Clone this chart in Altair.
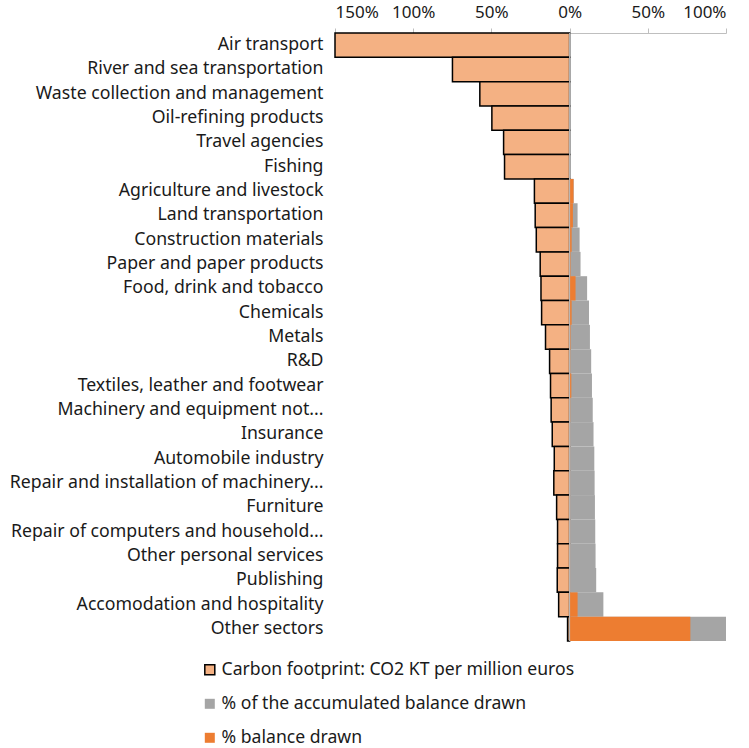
import altair as alt
import pandas as pd

sectors = [
    "Air transport", "River and sea transportation", "Waste collection and management",
    "Oil-refining products", "Travel agencies", "Fishing", "Agriculture and livestock",
    "Land transportation", "Construction materials", "Paper and paper products",
    "Food, drink and tobacco", "Chemicals", "Metals", "R&D",
    "Textiles, leather and footwear", "Machinery and equipment not...", "Insurance",
    "Automobile industry", "Repair and installation of machinery...", "Furniture",
    "Repair of computers and household...", "Other personal services", "Publishing",
    "Accomodation and hospitality", "Other sectors",
]

# Carbon footprint (CO2 KT per million euros), shown to the left of zero
carbon = [150, 74.9, 57.4, 49.7, 42.2, 41.6, 22.5, 22.0, 21.3, 18.8, 18.3, 17.9,
          15.4, 12.8, 12.2, 11.8, 11.1, 9.8, 10.1, 8.3, 7.7, 7.7, 7.9, 7.0, 1.3]
# % of the accumulated balance drawn
accumulated = [0.1, 0.1, 0.1, 0.1, 0.3, 0.3, 2.6, 5.1, 6.4, 7.0, 11.2, 12.4,
               13.0, 13.8, 14.3, 14.8, 15.3, 15.8, 16.0, 16.2, 16.4, 16.6, 17.0, 21.6, 100]
# % balance drawn
balance = [0.05, 0.05, 0.05, 0.05, 0.1, 0.1, 2.5, 2.1, 1.3, 0.6, 3.8, 1.3,
           0.6, 0.4, 1.1, 0.4, 0.3, 0.3, 0.3, 0.3, 0.3, 0.3, 0.3, 5.1, 77.2]

series_names = [
    "Carbon footprint: CO2 KT per million euros",
    "% of the accumulated balance drawn",
    "% balance drawn",
]
series_colors = ["#F4B183", "#A5A5A5", "#ED7D31"]

rows = []
for s, c, a, b in zip(sectors, carbon, accumulated, balance):
    rows.append({"sector": s, "series": series_names[0], "value": -c})
    rows.append({"sector": s, "series": series_names[1], "value": a})
    rows.append({"sector": s, "series": series_names[2], "value": b})
df = pd.DataFrame(rows)

FONT = "Noto Sans"
TEXT = "#1a1a1a"

y_enc = alt.Y(
    "sector:N",
    sort=sectors,
    scale=alt.Scale(paddingInner=0, paddingOuter=0),
    axis=alt.Axis(title=None, ticks=False, domain=False, labelFontSize=17.7,
                  labelPadding=12, labelColor=TEXT, labelLimit=400, labelFont=FONT),
)
x_enc = alt.X(
    "value:Q",
    scale=alt.Scale(domain=[-150, 100], nice=False),
    axis=alt.Axis(orient="top", values=[-150, -100, -50, 0, 50, 100],
                  labelExpr="abs(datum.value) + '%'", grid=False, title=None,
                  domainColor="#bfbfbf", tickColor="#bfbfbf", tickSize=5,
                  labelFontSize=17, labelColor=TEXT, labelFont=FONT, labelPadding=7),
)
color_enc = alt.Color(
    "series:N",
    scale=alt.Scale(domain=series_names, range=series_colors),
    legend=alt.Legend(
        title=None, orient="none", legendX=-134, legendY=628, direction="vertical",
        symbolType="square", symbolSize=100, labelFontSize=17.6, labelFont=FONT,
        labelColor=TEXT, labelLimit=500, rowPadding=15, padding=0, labelOffset=3,
        symbolStrokeWidth=1.5,
        symbolStrokeColor={"expr": "datum.label == 'Carbon footprint: CO2 KT per million euros' ? 'black' : 'transparent'"},
        symbolOpacity=1,
    ),
)

base = alt.Chart(df)

carbon_bars = base.transform_filter(
    alt.datum.series == series_names[0]
).mark_bar(stroke="black", strokeWidth=1.5, opacity=1).encode(
    x=x_enc, y=y_enc, color=color_enc
)
accum_bars = base.transform_filter(
    alt.datum.series == series_names[1]
).mark_bar(opacity=1).encode(x=x_enc, y=y_enc, color=color_enc)
balance_bars = base.transform_filter(
    alt.datum.series == series_names[2]
).mark_bar(opacity=1).encode(x=x_enc, y=y_enc, color=color_enc)

zero_line = alt.Chart(pd.DataFrame({"z": [0]})).mark_rule(
    color="#bfbfbf", strokeWidth=1
).encode(x=alt.X("z:Q"))

chart = alt.layer(carbon_bars, accum_bars, balance_bars, zero_line).properties(
    width=391, height=608,
    autosize=alt.AutoSizeParams(type="none"),
    padding={"left": 335, "top": 33, "right": 23, "bottom": 107},
).configure_view(stroke=None)

chart.save("out.html", embed_options={"renderer": "svg", "actions": False})
